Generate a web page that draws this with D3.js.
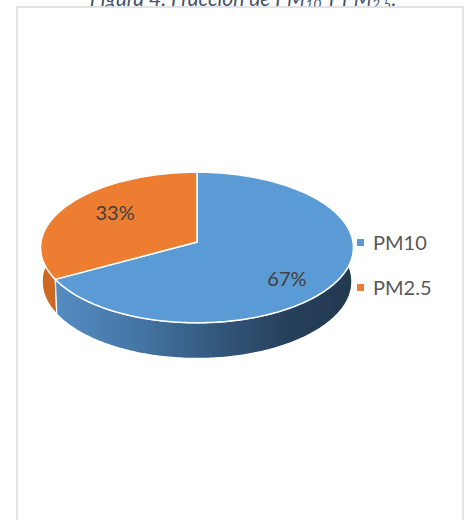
<!DOCTYPE html>
<html lang="es">
<head>
<meta charset="UTF-8">
<title>Fracción de PM10 y PM2.5</title>
<style>
  body { margin: 0; background: #fff; }
  svg { display: block; }
  text { font-family: Lato, "Open Sans", sans-serif; }
</style>
</head>
<body>
<svg id="chart" width="470" height="520"></svg>
<script src="https://d3js.org/d3.v7.min.js"></script>
<script>
// datos
const categories = ['PM10', 'PM2.5'];
const values = [67, 33];
const topColors = ['#5b9bd5', '#ed7d31'];

const svg = d3.select('#chart');

// titulo (cortado arriba, como en la figura)
const title = svg.append('text')
  .attr('x', 243).attr('y', 6)
  .attr('text-anchor', 'middle')
  .attr('font-style', 'italic')
  .attr('font-size', 21)
  .attr('fill', '#44546a');
title.append('tspan').text('Figura 4. Fracción de PM');
title.append('tspan').attr('font-size', 14).attr('dy', 3).text('10');
title.append('tspan').attr('dy', -3).text(' Y PM');
title.append('tspan').attr('font-size', 14).attr('dy', 3).text('2.5');
title.append('tspan').attr('dy', -3).text('.');

// marco del grafico
svg.append('rect')
  .attr('x', 17).attr('y', 7)
  .attr('width', 446).attr('height', 530)
  .attr('fill', '#fff')
  .attr('stroke', '#d9d9d9')
  .attr('stroke-width', 1.5);

// proyeccion 3D simple
const cx = 197, cy = 242, k = 156, D = 12, depth = 0.25;
const sinA = 0.48, cosA = Math.sqrt(1 - sinA * sinA);
function project(a, r, z) {
  const X = r * Math.sin(a), Y = r * Math.cos(a);
  const v = Y * sinA + z * cosA;
  const w = Y * cosA - z * sinA;
  const s = 1 / (1 + w / D);
  return [cx + k * X * s, cy - k * v * s];
}
function arcPoints(a0, a1, z) {
  const n = Math.max(8, Math.ceil((a1 - a0) * 60));
  return d3.range(n + 1).map(i => project(a0 + (a1 - a0) * i / n, 1, z));
}

const pie = d3.pie().sort(null).startAngle(0).endAngle(2 * Math.PI);
const slices = pie(values);
const line = d3.line();

// gradientes de los lados
const defs = svg.append('defs');
const gBlue = defs.append('linearGradient').attr('id', 'sideBlue')
  .attr('gradientUnits', 'userSpaceOnUse')
  .attr('x1', 40).attr('x2', 353).attr('y1', 0).attr('y2', 0);
[[0, '#5790c6'], [0.3, '#4577a6'], [0.55, '#34597f'], [0.8, '#263f5a'], [1, '#22394f']]
  .forEach(s => gBlue.append('stop').attr('offset', s[0]).attr('stop-color', s[1]));
const gOrange = defs.append('linearGradient').attr('id', 'sideOrange')
  .attr('gradientUnits', 'userSpaceOnUse')
  .attr('x1', 40).attr('x2', 353).attr('y1', 0).attr('y2', 0);
[[0, '#cf6a24'], [1, '#8f4512']]
  .forEach(s => gOrange.append('stop').attr('offset', s[0]).attr('stop-color', s[1]));
const sideFills = ['url(#sideBlue)', 'url(#sideOrange)'];

// paredes laterales (de atras hacia adelante)
const order = slices.map((d, i) => i).reverse();
svg.append('g').selectAll('path')
  .data(order.map(i => slices[i]))
  .join('path')
  .attr('d', d => {
    const top = arcPoints(d.startAngle, d.endAngle, 0);
    const bottom = arcPoints(d.startAngle, d.endAngle, -depth).reverse();
    return line(top.concat(bottom)) + 'Z';
  })
  .attr('fill', d => sideFills[d.index])
  .attr('stroke', '#fff')
  .attr('stroke-width', 1.2)
  .attr('stroke-linejoin', 'round');

// caras superiores
svg.append('g').selectAll('path')
  .data(slices)
  .join('path')
  .attr('d', d => line([project(0, 0, 0)].concat(arcPoints(d.startAngle, d.endAngle, 0))) + 'Z')
  .attr('fill', d => topColors[d.index])
  .attr('stroke', '#fff')
  .attr('stroke-width', 1.5)
  .attr('stroke-linejoin', 'round');

// etiquetas de porcentaje
const total = d3.sum(values);
const lx = 201, ly = 246, fx = 0.64 * k, fy = 0.87 * 75.5;
svg.append('g').selectAll('text')
  .data(slices)
  .join('text')
  .attr('x', d => lx + fx * Math.sin((d.startAngle + d.endAngle) / 2))
  .attr('y', d => ly - fy * Math.cos((d.startAngle + d.endAngle) / 2))
  .attr('dy', '0.35em')
  .attr('text-anchor', 'middle')
  .attr('font-size', 20)
  .attr('fill', '#404040')
  .text(d => Math.round(d.value / total * 100) + '%');

// leyenda
const legendY = d3.scalePoint().domain(categories).range([243, 288]);
const legend = svg.append('g').selectAll('g')
  .data(categories)
  .join('g')
  .attr('transform', d => `translate(357, ${legendY(d)})`);
legend.append('rect')
  .attr('x', 0).attr('y', -4)
  .attr('width', 7).attr('height', 7)
  .attr('fill', (d, i) => topColors[i]);
legend.append('text')
  .attr('x', 16).attr('y', 0)
  .attr('dy', '0.35em')
  .attr('font-size', 20)
  .attr('fill', '#595959')
  .text(d => d);
</script>
</body>
</html>
